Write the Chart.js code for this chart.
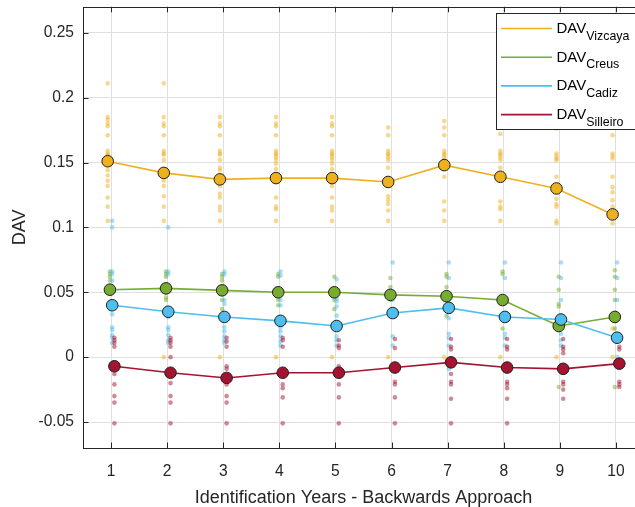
<!DOCTYPE html>
<html>
<head>
<meta charset="utf-8">
<script src="https://cdn.jsdelivr.net/npm/chart.js@4.4.1/dist/chart.umd.min.js"></script>
<style>
  html, body { margin: 0; padding: 0; background: #ffffff; overflow: hidden; }
  #wrap { position: relative; width: 660px; height: 507px; }
</style>
</head>
<body>
<div id="wrap"><canvas id="chart"></canvas></div>
<script>
// Identification years (backwards approach)
const years = [1, 2, 3, 4, 5, 6, 7, 8, 9, 10];
const yTicks = [-0.05, 0, 0.05, 0.1, 0.15, 0.2, 0.25];
const yTickLabels = ['-0.05', '0', '0.05', '0.1', '0.15', '0.2', '0.25'];
const siteNames = ['Vizcaya', 'Creus', 'Cadiz', 'Silleiro'];
const seriesPrefix = 'DAV';
const xTitle = 'Identification Years - Backwards Approach';
const yTitle = 'DAV';

// Mean DAV per identification year
const vizcayaMean  = [0.151, 0.142, 0.137, 0.138, 0.138, 0.135, 0.148, 0.139, 0.130, 0.110];
const creusMean    = [0.052, 0.053, 0.0515, 0.050, 0.050, 0.048, 0.047, 0.044, 0.024, 0.031];
const cadizMean    = [0.040, 0.035, 0.031, 0.028, 0.024, 0.034, 0.038, 0.031, 0.029, 0.015];
const silleiroMean = [-0.007, -0.012, -0.016, -0.012, -0.012, -0.008, -0.004, -0.008, -0.009, -0.005];

// Individual DAV values per identification year
const vizcayaValues = [
  [0.211, 0.185, 0.183, 0.180, 0.178, 0.171, 0.159, 0.157, 0.156, 0.148, 0.144, 0.140, 0.136, 0.132, 0.123, 0.116, 0.105],
  [0.211, 0.185, 0.180, 0.178, 0.171, 0.159, 0.157, 0.156, 0.152, 0.140, 0.136, 0.132, 0.124, 0.116, 0.105, 0.000],
  [0.185, 0.180, 0.178, 0.171, 0.159, 0.157, 0.156, 0.152, 0.146, 0.144, 0.132, 0.126, 0.123, 0.116, 0.113, 0.105, 0.000],
  [0.185, 0.180, 0.178, 0.171, 0.159, 0.157, 0.156, 0.154, 0.152, 0.149, 0.145, 0.123, 0.116, 0.114, 0.105, 0.000],
  [0.185, 0.180, 0.178, 0.171, 0.159, 0.157, 0.156, 0.154, 0.152, 0.149, 0.145, 0.132, 0.123, 0.116, 0.113, 0.105, 0.000],
  [0.177, 0.171, 0.159, 0.157, 0.156, 0.154, 0.152, 0.146, 0.124, 0.121, 0.118, 0.113, 0.105, 0.000],
  [0.182, 0.177, 0.171, 0.159, 0.157, 0.156, 0.154, 0.152, 0.139, 0.120, 0.113, 0.105, 0.000],
  [0.172, 0.159, 0.157, 0.156, 0.154, 0.152, 0.146, 0.120, 0.116, 0.114, 0.105, 0.000],
  [0.176, 0.157, 0.155, 0.153, 0.152, 0.139, 0.122, 0.118, 0.116, 0.105, 0.103, 0.000],
  [0.171, 0.157, 0.155, 0.153, 0.139, 0.131, 0.127, 0.121, 0.116, 0.103, 0.022, 0.000]
];
const creusValues = [
  [0.066, 0.064, 0.062, 0.059],
  [0.066, 0.064, 0.062, 0.046, 0.044],
  [0.064, 0.062, 0.059, 0.044, 0.037],
  [0.064, 0.062, 0.044, 0.040],
  [0.062, 0.044, 0.037],
  [0.061, 0.054, 0.044],
  [0.064, 0.062, 0.054, 0.039, 0.032],
  [0.066, 0.064, 0.022],
  [0.062, 0.052, 0.041, 0.039, -0.023],
  [0.067, 0.062, 0.052, 0.044, 0.034, 0.022, -0.023]
];
const cadizValues = [
  [0.105, 0.100, 0.066, 0.064, 0.059, 0.033, 0.023, 0.021, 0.017, 0.015, 0.011],
  [0.100, 0.066, 0.064, 0.031, 0.023, 0.021, 0.017, 0.013, 0.011],
  [0.066, 0.064, 0.044, 0.041, 0.023, 0.020, 0.016, 0.013, 0.011],
  [0.066, 0.063, 0.044, 0.040, 0.023, 0.020, 0.016, 0.012, 0.009],
  [0.060, 0.045, 0.043, 0.039, 0.032, 0.016, 0.013, 0.009],
  [0.073, 0.044, 0.016, 0.009],
  [0.073, 0.061, 0.030, 0.018, 0.015, 0.009, -0.009],
  [0.073, 0.061, 0.018, 0.015, 0.009],
  [0.073, 0.061, 0.044, 0.018, 0.013, 0.009, -0.006],
  [0.073, 0.061, 0.044, 0.016, 0.000]
];
const silleiroValues = [
  [0.015, 0.013, 0.011, 0.008, -0.007, -0.013, -0.021, -0.030, -0.035, -0.051],
  [0.015, 0.013, 0.011, 0.008, 0.000, -0.012, -0.020, -0.030, -0.035, -0.051],
  [0.015, 0.012, 0.008, -0.007, -0.009, -0.014, -0.016, -0.021, -0.030, -0.035, -0.051],
  [0.015, 0.013, 0.008, -0.011, -0.021, -0.024, -0.031, -0.051],
  [0.013, 0.009, 0.007, -0.007, -0.021, -0.031, -0.051],
  [0.014, 0.007, -0.008, -0.019, -0.021, -0.031, -0.051],
  [0.014, 0.008, 0.006, -0.013, -0.019, -0.021, -0.032, -0.051],
  [0.014, 0.008, 0.006, -0.019, -0.021, -0.024, -0.032, -0.051],
  [0.014, 0.008, 0.006, 0.003, -0.019, -0.021, -0.025, -0.032],
  [0.014, 0.008, 0.006, -0.019, -0.021, -0.023]
];

// Styling per site: colour and a small horizontal shift so the groups do not overlap
const siteStyles = [
  { rgb: [237, 177, 32],  shift: -0.06 },
  { rgb: [119, 172, 48],  shift: -0.02 },
  { rgb: [77, 190, 238],  shift: 0.02 },
  { rgb: [162, 20, 47],   shift: 0.06 }
];
const meanSeries = [vizcayaMean, creusMean, cadizMean, silleiroMean];
const valueSeries = [vizcayaValues, creusValues, cadizValues, silleiroValues];

const rgba = (c, a) => `rgba(${c[0]},${c[1]},${c[2]},${a})`;
const axisColor = '#262626';
const fontFamily = '"Liberation Sans", Arial, Helvetica, sans-serif';

const datasets = [];
// Individual values, drawn underneath everything else
valueSeries.forEach((perYear, s) => {
  const st = siteStyles[s];
  const pts = [];
  perYear.forEach((vals, i) => vals.forEach(v => pts.push({ x: years[i] + st.shift, y: v })));
  datasets.push({
    type: 'scatter',
    label: seriesPrefix + ' ' + siteNames[s] + ' values',
    data: pts,
    order: 20 - s,
    pointRadius: 2.3,
    pointBorderWidth: 0,
    pointBackgroundColor: rgba(st.rgb, 0.5),
    pointBorderColor: 'rgba(0,0,0,0)',
    showLine: false
  });
});
// Yearly means joined by lines
meanSeries.forEach((means, s) => {
  const st = siteStyles[s];
  datasets.push({
    type: 'line',
    label: seriesPrefix + ' ' + siteNames[s],
    data: means.map((v, i) => ({ x: years[i] + st.shift, y: v })),
    order: 4 - s,
    borderColor: rgba(st.rgb, 1),
    borderWidth: 1.6,
    tension: 0,
    pointRadius: 5.8,
    pointBorderWidth: 1,
    pointBackgroundColor: rgba(st.rgb, 1),
    pointBorderColor: '#1e1e1e'
  });
});

// Box around the axes with inward tick marks
const axesBox = {
  id: 'axesBox',
  afterDraw(chart) {
    const { ctx, chartArea: a, scales } = chart;
    ctx.save();
    ctx.strokeStyle = axisColor;
    ctx.lineWidth = 1;
    ctx.strokeRect(Math.round(a.left) + 0.5, Math.round(a.top) + 0.5,
                   Math.round(a.right - a.left), Math.round(a.bottom - a.top));
    const tl = 5.5;
    ctx.beginPath();
    years.forEach(v => {
      const x = Math.round(scales.x.getPixelForValue(v)) + 0.5;
      ctx.moveTo(x, a.bottom); ctx.lineTo(x, a.bottom - tl);
      ctx.moveTo(x, a.top); ctx.lineTo(x, a.top + tl);
    });
    yTicks.forEach(v => {
      const y = Math.round(scales.y.getPixelForValue(v)) + 0.5;
      ctx.moveTo(a.left, y); ctx.lineTo(a.left + tl, y);
      ctx.moveTo(a.right, y); ctx.lineTo(a.right - tl, y);
    });
    ctx.stroke();
    ctx.restore();
  }
};

// Legend with subscripted site names
const subLegend = {
  id: 'subLegend',
  afterDraw(chart) {
    const { ctx, chartArea: a } = chart;
    const x0 = Math.round(a.right - 148.5) + 0.5;
    const y0 = Math.round(a.top + 6) + 0.5;
    const w = 145, h = 116, step = 28.7;
    ctx.save();
    ctx.fillStyle = '#ffffff';
    ctx.fillRect(x0, y0, w, h);
    ctx.strokeStyle = axisColor;
    ctx.lineWidth = 1;
    ctx.strokeRect(x0, y0, w, h);
    siteNames.forEach((name, i) => {
      const ly = y0 + 15 + i * step;
      ctx.strokeStyle = rgba(siteStyles[i].rgb, 1);
      ctx.lineWidth = 1.6;
      ctx.beginPath();
      ctx.moveTo(x0 + 4.5, ly); ctx.lineTo(x0 + 55.5, ly);
      ctx.stroke();
      ctx.fillStyle = '#000000';
      ctx.textBaseline = 'alphabetic';
      ctx.textAlign = 'left';
      ctx.font = '15px ' + fontFamily;
      ctx.fillText(seriesPrefix, x0 + 60, ly + 4.5);
      const tw = ctx.measureText(seriesPrefix).width;
      ctx.font = '12.4px ' + fontFamily;
      ctx.fillText(name, x0 + 60 + tw, ly + 11);
    });
    ctx.restore();
  }
};

new Chart(document.getElementById('chart'), {
  type: 'scatter',
  data: { datasets },
  plugins: [axesBox, subLegend],
  options: {
    responsive: true,
    maintainAspectRatio: false,
    animation: false,
    events: [],
    layout: { padding: { left: 0, right: 16, top: 5.5, bottom: 0 } },
    plugins: { legend: { display: false }, tooltip: { enabled: false } },
    scales: {
      x: {
        type: 'linear',
        min: 0.5,
        max: 10.5,
        afterBuildTicks: s => { s.ticks = years.map(v => ({ value: v })); },
        afterFit: s => { s.height = 59; s.paddingLeft = 0; s.paddingRight = 0; },
        grid: { color: '#dfdfdf', lineWidth: 1, drawTicks: false },
        border: { display: false },
        ticks: {
          color: axisColor,
          padding: 14,
          font: { family: fontFamily, size: 15.6 },
          maxRotation: 0,
          callback: v => String(v)
        },
        title: {
          display: true,
          text: xTitle,
          color: axisColor,
          font: { family: fontFamily, size: 18, lineHeight: 1 },
          padding: { top: 0, bottom: 0 }
        }
      },
      y: {
        type: 'linear',
        min: -0.07,
        max: 0.27,
        afterBuildTicks: s => { s.ticks = yTicks.map(v => ({ value: v })); },
        afterFit: s => { s.width = 83; s.paddingTop = 0; s.paddingBottom = 0; },
        grid: { color: '#dfdfdf', lineWidth: 1, drawTicks: false },
        border: { display: false },
        ticks: {
          color: axisColor,
          padding: 9,
          font: { family: fontFamily, size: 15.6 },
          callback: (v, i) => yTickLabels[i]
        },
        title: {
          display: true,
          text: yTitle,
          color: axisColor,
          font: { family: fontFamily, size: 18, lineHeight: 1 },
          padding: { top: 11, bottom: 0 }
        }
      }
    }
  }
});
</script>
</body>
</html>
